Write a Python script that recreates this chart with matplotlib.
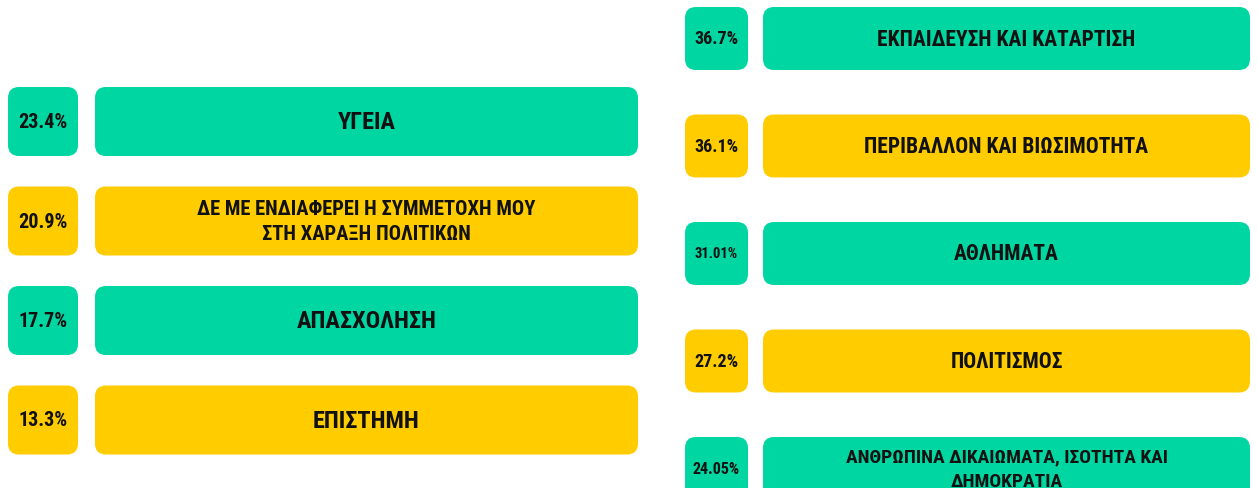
import matplotlib
matplotlib.use("Agg")
from matplotlib import pyplot as plt
from matplotlib.patches import FancyBboxPatch
from matplotlib import font_manager

names = {f.name for f in font_manager.fontManager.ttflist}
fam = [n for n in ['Roboto Condensed', 'Oswald', 'Liberation Sans Narrow',
                   'Roboto', 'DejaVu Sans'] if n in names]
plt.rcParams['font.family'] = fam

# left column
left_pct = ['23.4%', '20.9%', '17.7%', '13.3%']
left_labels = ['ΥΓΕΙΑ',
               'ΔΕ ΜΕ ΕΝΔΙΑΦΕΡΕΙ Η ΣΥΜΜΕΤΟΧΗ ΜΟΥ\nΣΤΗ ΧΑΡΑΞΗ ΠΟΛΙΤΙΚΩΝ',
               'ΑΠΑΣΧΟΛΗΣΗ',
               'ΕΠΙΣΤΗΜΗ']
# right column
right_pct = ['36.7%', '36.1%', '31.01%', '27.2%', '24.05%']
right_labels = ['ΕΚΠΑΙΔΕΥΣΗ ΚΑΙ ΚΑΤΑΡΤΙΣΗ',
                'ΠΕΡΙΒΑΛΛΟΝ ΚΑΙ ΒΙΩΣΙΜΟΤΗΤΑ',
                'ΑΘΛΗΜΑΤΑ',
                'ΠΟΛΙΤΙΣΜΟΣ',
                'ΑΝΘΡΩΠΙΝΑ ΔΙΚΑΙΩΜΑΤΑ, ΙΣΟΤΗΤΑ ΚΑΙ\nΔΗΜΟΚΡΑΤΙΑ']

GREEN = '#00D6A1'
YELLOW = '#FFCC00'

fig = plt.figure(figsize=(12.57, 4.89), dpi=100)
ax = fig.add_axes([0, 0, 1, 1])
ax.set_xlim(0, 1257)
ax.set_ylim(489, 0)
ax.axis('off')


def column(pcts, labels, x0, w0, x1, w1, top, step, h, pct_sizes, lab_size, lab2_size):
    for i, (p, lab) in enumerate(zip(pcts, labels)):
        y = top + i * step
        c = GREEN if i % 2 == 0 else YELLOW
        for x, w in ((x0, w0), (x1, w1)):
            ax.add_patch(FancyBboxPatch((x, y), w, h,
                                        boxstyle='round,pad=0,rounding_size=11',
                                        fc=c, ec='none'))
        ax.text(x0 + w0 / 2, y + h / 2, p, ha='center', va='center',
                fontsize=pct_sizes[i], fontweight='bold', color='#111111')
        fs = lab2_size if '\n' in lab else lab_size
        ax.text(x1 + w1 / 2, y + h / 2, lab, ha='center', va='center',
                fontsize=fs, fontweight='bold', color='#111111', linespacing=1.45)


column(left_pct, left_labels, 8, 70, 95, 543, 88, 99.5, 69,
       [14.5, 14.5, 14.5, 14.5], 17.5, 14.8)
column(right_pct, right_labels, 685, 63, 763, 487, 8, 107.5, 63,
       [13, 13, 10.5, 13, 11.5], 15.5, 14)

fig.savefig('out.png', dpi=100, facecolor='white')
